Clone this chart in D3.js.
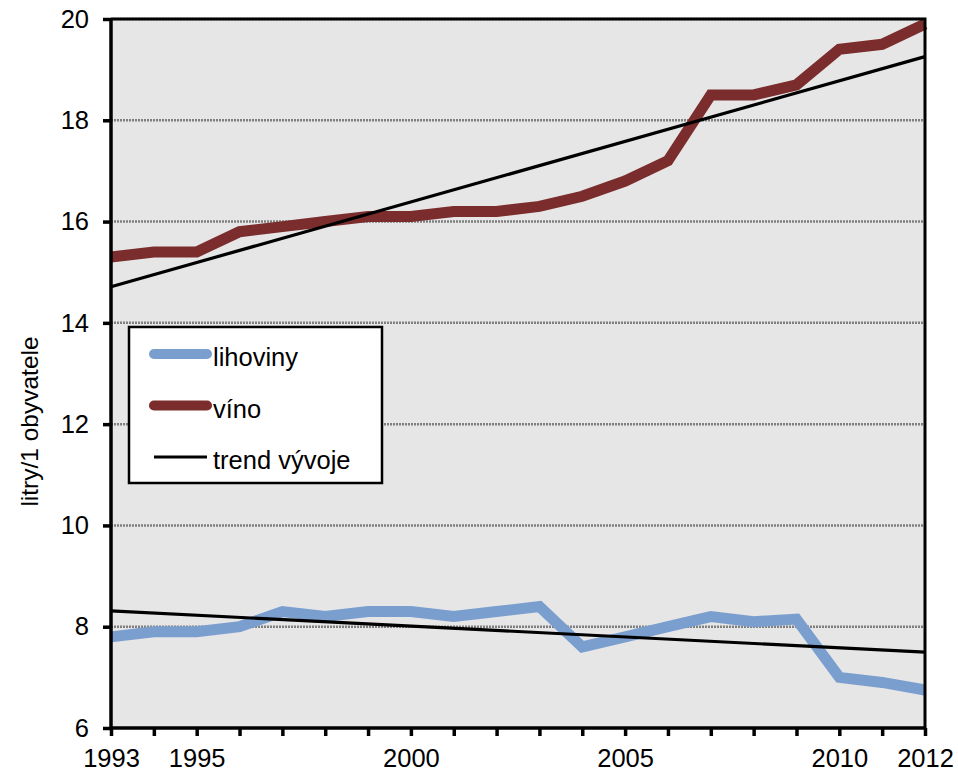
<!DOCTYPE html>
<html>
<head>
<meta charset="utf-8">
<script src="https://cdn.jsdelivr.net/npm/d3@7"></script>
<style>
  html, body { margin: 0; padding: 0; background: #ffffff; }
  svg { display: block; font-family: Arial, "Liberation Sans", sans-serif; }
</style>
</head>
<body>
<svg id="chart" width="958" height="773"></svg>
<script>
// ---- data ----
const years = [1993,1994,1995,1996,1997,1998,1999,2000,2001,2002,2003,2004,2005,2006,2007,2008,2009,2010,2011,2012];
const lihoviny = [7.8,7.9,7.9,8.0,8.3,8.2,8.3,8.3,8.2,8.3,8.4,7.6,7.8,8.0,8.2,8.1,8.15,7.0,6.9,6.75];
const vino = [15.3,15.4,15.4,15.8,15.9,16.0,16.1,16.1,16.2,16.2,16.3,16.5,16.8,17.2,18.5,18.5,18.7,19.4,19.5,19.9];
const xTickLabels = [1993,1995,2000,2005,2010,2012];
const yTicks = [6,8,10,12,14,16,18,20];
const legendLabels = ["lihoviny","víno","trend vývoje"];
const yAxisTitle = "litry/1 obyvatele";

// ---- layout ----
const W = 958, H = 773;
const m = {left: 111, right: 33, top: 19, bottom: 45};
const svg = d3.select("#chart");
const x = d3.scaleLinear().domain([1993, 2012]).range([m.left, W - m.right]);
const y = d3.scaleLinear().domain([6, 20]).range([H - m.bottom, m.top]);

// plot background
svg.append("rect")
  .attr("x", x(1993)).attr("y", y(20))
  .attr("width", x(2012) - x(1993)).attr("height", y(6) - y(20))
  .attr("fill", "#e6e6e6");

// gridlines
svg.append("g").selectAll("line")
  .data(yTicks.filter(d => d > 6))
  .join("line")
  .attr("x1", x(1993)).attr("x2", x(2012))
  .attr("y1", d => y(d)).attr("y2", d => y(d))
  .attr("stroke", "#7f7f7f").attr("stroke-width", 2.5)
  .attr("stroke-dasharray", "2,1");

// least-squares trend
function trend(vals) {
  const n = vals.length;
  const mx = d3.mean(years), my = d3.mean(vals);
  let sxy = 0, sxx = 0;
  years.forEach((yr, i) => { sxy += (yr - mx) * (vals[i] - my); sxx += (yr - mx) ** 2; });
  const b = sxy / sxx, a = my - b * mx;
  return [years[0], years[n - 1]].map(yr => [yr, a + b * yr]);
}

const line = d3.line().x(d => x(d[0])).y(d => y(d[1]));

// series
const series = [
  {vals: lihoviny, color: "#7a9fcf"},
  {vals: vino, color: "#7b2c2c"}
];
series.forEach(s => {
  svg.append("path")
    .datum(years.map((yr, i) => [yr, s.vals[i]]))
    .attr("d", line)
    .attr("fill", "none")
    .attr("stroke", s.color)
    .attr("stroke-width", 11)
    .attr("stroke-linejoin", "miter");
});
// trend lines
series.forEach(s => {
  svg.append("path")
    .datum(trend(s.vals))
    .attr("d", line)
    .attr("fill", "none")
    .attr("stroke", "#000")
    .attr("stroke-width", 3.2);
});

// frame (top and right)
svg.append("path")
  .attr("d", `M${x(1993)},${y(20)}H${x(2012)}V${y(6)}`)
  .attr("fill", "none").attr("stroke", "#000").attr("stroke-width", 3);

// axes
const yAxis = d3.axisLeft(y).tickValues(yTicks).tickSize(8).tickPadding(14);
const gy = svg.append("g").attr("transform", `translate(${x(1993)},0)`).call(yAxis);
const xAxis = d3.axisBottom(x).tickValues(years).tickSize(8).tickPadding(13)
  .tickFormat(d => xTickLabels.includes(d) ? String(d) : "");
const gx = svg.append("g").attr("transform", `translate(0,${y(6)})`).call(xAxis);
[gx, gy].forEach(g => {
  g.select(".domain").attr("stroke", "#000").attr("stroke-width", 3.5)
    .attr("d", g === gx ? `M${x(1993)},0H${x(2012)}` : `M0,${y(6)}V${y(20)}`);
  g.selectAll(".tick line").attr("stroke", "#000").attr("stroke-width", 3.5);
  g.selectAll(".tick text").attr("fill", "#000").attr("font-size", 25.5)
    .attr("font-family", "Arial, 'Liberation Sans', sans-serif");
});

// y axis title
svg.append("text")
  .attr("transform", `translate(38,${(y(6) + y(20)) / 2 + 48}) rotate(-90)`)
  .attr("text-anchor", "middle")
  .attr("font-size", 24.5)
  .attr("fill", "#000")
  .text(yAxisTitle);

// legend
const lg = svg.append("g");
lg.append("rect")
  .attr("x", 129).attr("y", 327).attr("width", 253).attr("height", 156)
  .attr("fill", "#fff").attr("stroke", "#000").attr("stroke-width", 2.5);
const legItems = [
  {label: legendLabels[0], color: "#7a9fcf", w: 10, x1: 154, x2: 207, cap: "round"},
  {label: legendLabels[1], color: "#7b2c2c", w: 10, x1: 154, x2: 207, cap: "round"},
  {label: legendLabels[2], color: "#000", w: 3, x1: 154, x2: 207, cap: "butt"}
];
legItems.forEach((d, i) => {
  const cy = 354 + i * 51.5;
  lg.append("line").attr("x1", d.x1).attr("x2", d.x2).attr("y1", cy).attr("y2", cy)
    .attr("stroke", d.color).attr("stroke-width", d.w).attr("stroke-linecap", d.cap);
  lg.append("text").attr("x", 213).attr("y", cy + 12)
    .attr("font-size", 25.5).attr("fill", "#000").text(d.label);
});
</script>
</body>
</html>
